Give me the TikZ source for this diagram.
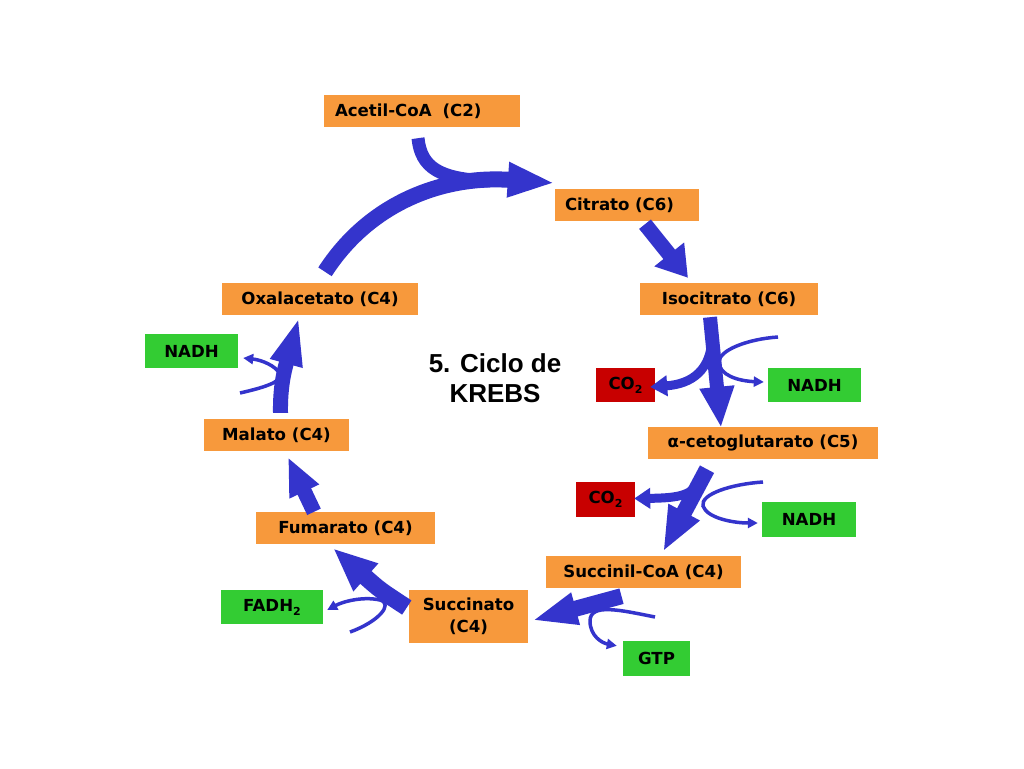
\documentclass[tikz,border=0pt]{standalone}
\usepackage{fontspec}
\setmainfont{DejaVu Sans}
\newfontfamily\titlefont{Liberation Sans}
\usetikzlibrary{arrows.meta,calc}
\definecolor{kblue}{RGB}{52,52,204}
\definecolor{korange}{RGB}{247,153,60}
\definecolor{kgreen}{RGB}{51,204,51}
\definecolor{kred}{RGB}{200,0,0}
\newcommand{\lowtwo}{\raisebox{-0.45ex}{\fontsize{11}{11}\selectfont 2}}
\begin{document}
\begin{tikzpicture}[x=1pt,y=-1pt,
  lbl/.style={inner sep=0pt, font=\fontsize{16.6}{22}\selectfont\bfseries},
  obox/.style={lbl, fill=korange, minimum height=32pt},
  gbox/.style={lbl, fill=kgreen, minimum height=34pt},
  rbox/.style={lbl, fill=kred, minimum height=34pt},
  flow/.style n args={3}{draw=kblue, line width=#1, -{Triangle[length=#2,width=#3]}},
  thinflow/.style={draw=kblue, line width=3.5pt, -{Triangle[length=10pt,width=10pt]}},
  plain/.style={draw=kblue, line width=#1}]
\useasboundingbox[fill=white] (0,0) rectangle (1024,768);
% nodes
\node[obox, minimum width=196pt, text width=174pt, align=left] (acetil) at (422,111) {Acetil-CoA\ \ (C2)};
\node[obox, minimum width=144pt, text width=124pt, align=left] (citrato) at (627,205) {Citrato (C6)};
\node[obox, minimum width=178pt] (isocitrato) at (729,299) {Isocitrato (C6)};
\node[obox, minimum width=196pt] (oxal) at (320,299) {Oxalacetato (C4)};
\node[gbox, minimum width=93pt] (nadha) at (191.5,351) {NADH};
\node[rbox, minimum width=59pt] (co2a) at (625.5,385) {CO\lowtwo};
\node[gbox, minimum width=93pt] (nadhb) at (814.5,385) {NADH};
\node[obox, minimum width=230pt] (ceto) at (763,443) {α-cetoglutarato (C5)};
\node[rbox, minimum width=59pt, minimum height=35pt] (co2b) at (605.5,499.5) {CO\lowtwo};
\node[gbox, minimum width=94pt, minimum height=35pt] (nadhc) at (809,519.5) {NADH};
\node[obox, minimum width=195pt] (succoa) at (643.5,572) {Succinil-CoA (C4)};
\node[obox, minimum width=119pt, minimum height=53pt, align=center] (succ) at (468.5,616.5) {Succinato\\(C4)};
\node[obox, minimum width=145pt] (malato) at (276.5,435) {Malato (C4)};
\node[obox, minimum width=179pt] (fumarato) at (345.5,528) {Fumarato (C4)};
\node[gbox, minimum width=102pt] (fadh) at (272,607) {FADH\lowtwo};
\node[gbox, minimum width=67pt, minimum height=35pt] (gtp) at (656.5,658.5) {GTP};
\node[align=center, font=\titlefont\bfseries\fontsize{26}{30}\selectfont] (title) at (495,378) {5. Ciclo de\\KREBS};
% free ends
\coordinate (merge) at (488,181);
\coordinate (ta) at (778,337);
\coordinate (tb) at (763,482);
\coordinate (tc) at (655,617);
\coordinate (td) at (350,632);
\coordinate (te) at (240,393);
% thin side arrows
\draw[thinflow] (ta) .. controls (748,339) and (719,350) .. (719,362) .. controls (719,375) and (738,381) .. ($(nadhb.west)+(-4,-3)$);
\draw[thinflow] (tb) .. controls (732,484) and (700,494) .. (703,506) .. controls (707,518) and (733,523) .. ($(nadhc.west)+(-4,3.5)$);
\draw[thinflow] (tc) .. controls (620,610) and (590,603) .. (590,621) .. controls (590,636) and (602,643) .. ($(gtp.north west)+(-6,5)$);
\draw[thinflow] (td) .. controls (378,622) and (394,604) .. (380,600) .. controls (362,596) and (342,602) .. ($(fadh.east)+(4,3)$);
\draw[thinflow] (te) .. controls (262,388) and (283,382) .. (280,374) .. controls (276,366) and (262,360) .. ($(nadha.east)+(5,7)$);
% Oxalacetato -> Citrato
\draw[flow={16pt}{47pt}{32pt}] ($(oxal.north)+(5,-11)$) .. controls (368,205) and (440,175) .. ($(citrato.west)+(0,-22)$);
% Acetil-CoA joins
\draw[plain=13pt] ($(acetil.south)+(-4,11)$) .. controls (421,168) and (440,179) .. (merge);
% Citrato -> Isocitrato
\draw[flow={15pt}{30pt}{36pt}] ($(citrato.south)+(18,3)$) -- ($(isocitrato.north)+(-41,-5)$);
% Isocitrato -> alpha-cetoglutarato
\draw[flow={14pt}{41pt}{32pt}] ($(isocitrato.south)+(-19,2)$) -- ($(ceto.north)+(-42,1)$);
\draw[flow={9pt}{17pt}{20pt}] ($(isocitrato.south)+(-17,20)$) .. controls (712,370) and (692,384) .. ($(co2a.east)+(-5,2)$);
% alpha-cetoglutarato -> Succinil-CoA
\draw[flow={16pt}{45pt}{32pt}] ($(ceto.south)+(-56,10)$) -- ($(succoa.north)+(19.5,-4)$);
\draw[flow={9pt}{16pt}{20pt}] ($(ceto.south)+(-64,20)$) .. controls (694,495) and (680,498) .. ($(co2b.east)+(-1,-1)$);
% Succinil-CoA -> Succinato
\draw[flow={16pt}{45pt}{30pt}] ($(succoa.south)+(-22,8)$) -- ($(succ.east)+(4,4)$);
% Succinato -> Fumarato
\draw[flow={17pt}{44pt}{34pt}] ($(succ.west)+(-2,-9)$) .. controls (380,590) .. ($(fumarato.south)+(-12.5,4)$);
% Fumarato -> Malato
\draw[flow={15pt}{38pt}{30pt}] ($(fumarato.north)+(-31.5,0)$) -- ($(malato.south)+(11.5,6)$);
% Malato -> Oxalacetato
\draw[flow={15pt}{48pt}{30pt}] ($(malato.north)+(4,-6)$) .. controls (280,385) and (285,368) .. ($(oxal.south)+(-21,2)$);
\end{tikzpicture}
\end{document}
